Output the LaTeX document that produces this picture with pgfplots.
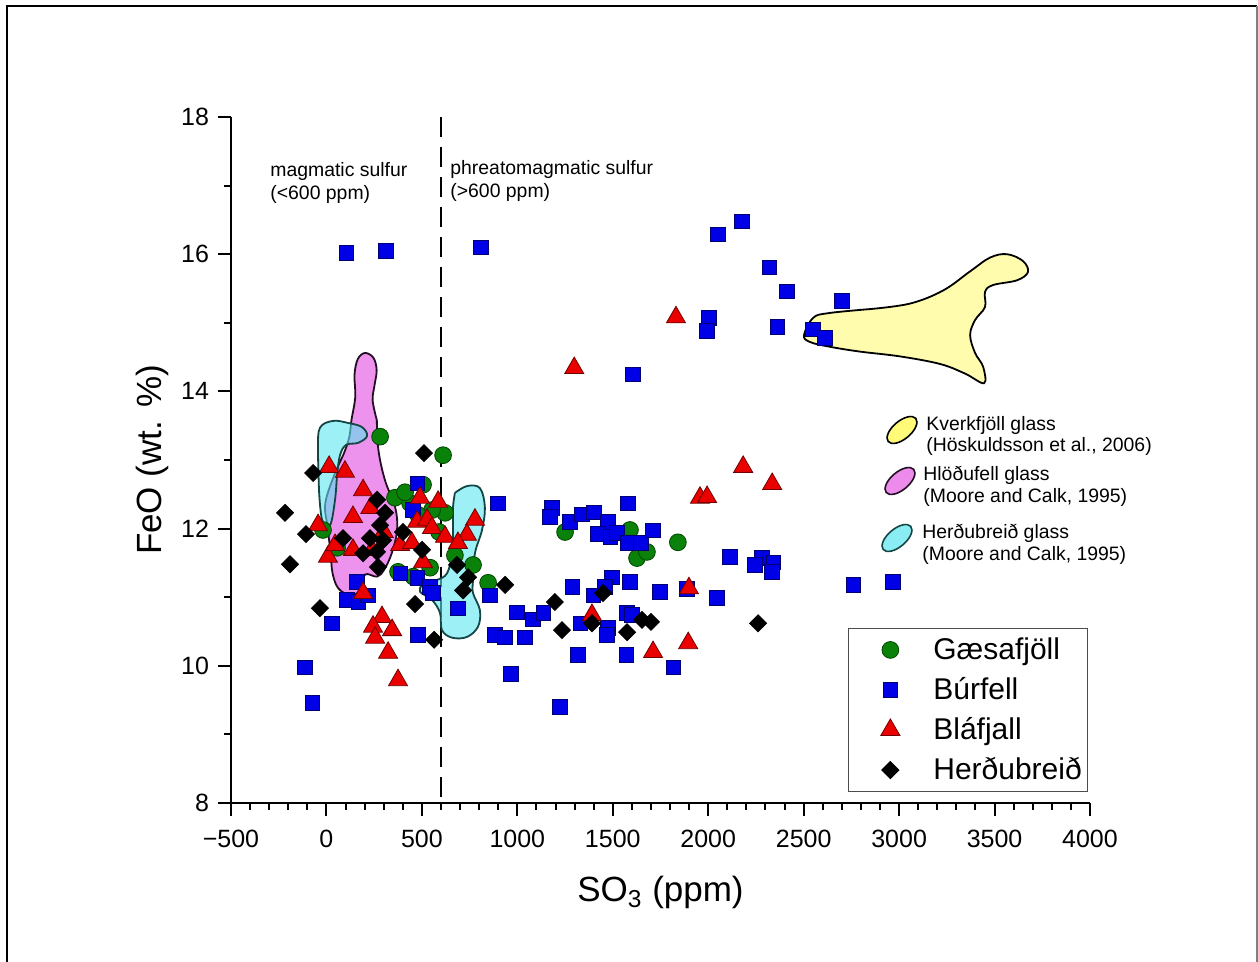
\documentclass[border=0pt]{standalone}
\usepackage{pgfplots}
\pgfplotsset{compat=1.18}
\usepackage{fontspec}
\setmainfont{Liberation Sans}
\definecolor{gfill}{RGB}{10,130,10}
\definecolor{gedge}{RGB}{0,70,0}
\definecolor{bfill}{RGB}{0,0,230}
\definecolor{bedge}{RGB}{0,0,110}
\definecolor{rfill}{RGB}{235,0,0}
\definecolor{redge}{RGB}{110,0,0}
\definecolor{yfill}{RGB}{255,250,120}
\definecolor{pfill}{RGB}{230,100,230}
\definecolor{cfill}{RGB}{90,230,240}
\definecolor{cedge}{RGB}{20,70,70}
\begin{document}
\begin{tikzpicture}
\useasboundingbox (0,0) rectangle (629pt,481pt);
\draw[line width=1pt] (3.5pt,0) -- (3.5pt,478pt) -- (628.5pt,478pt);
\draw[line width=1pt, gray] (628.5pt,478pt) -- (628.5pt,0);
\begin{axis}[
 at={(115.5pt,79.5pt)}, anchor=south west,
 scale only axis, width=429.5pt, height=343pt,
 xmin=-500, xmax=4000, ymin=8, ymax=18,
 axis x line=bottom, axis y line=left,
 axis line style={-, line width=1pt},
 xtick={-500,0,...,4000},
 xticklabels={−500,0,500,1000,1500,2000,2500,3000,3500,4000},
 minor x tick num=4,
 ytick={8,10,...,18}, minor y tick num=1,
 tick align=outside, major tick length=6.5pt, minor tick length=3.5pt,
 tick style={line width=1pt, black},
 tick label style={font=\fontsize{12.5}{14}\selectfont},
 xticklabel style={yshift=-3.5pt},
 yticklabel style={xshift=-1pt},
 /pgf/number format/assume math mode=true,
 xlabel={SO\textsubscript{3} (ppm)}, ylabel={FeO (wt. \%)},
 label style={font=\fontsize{17.5}{20}\selectfont},
 xlabel style={at={(axis description cs:0.5,-0.131)}, anchor=center},
 ylabel style={at={(axis description cs:-0.092,0.5)}, anchor=center},
 legend image code/.code={\path[draw=none,fill=none] (0pt,0pt) -- (39.5pt,0pt); \draw[#1] plot coordinates {(20pt,0pt)};},
 legend style={at={(0.998,0.255)}, anchor=north east, draw=black!70, line width=0.5pt,
   font=\fontsize{15}{17}\selectfont, row sep=3.5pt, inner xsep=1pt, inner ysep=2.5pt},
 legend cell align=left,
 clip=false,
]
% Gaesafjoll
\addplot[only marks, mark=*, mark size=4.2pt, mark options={fill=gfill, draw=gedge, line width=0.4pt}] coordinates {
(281,13.34) (611,13.07) (506,12.64) (359,12.45) (438,12.37) (621,12.23) (768,11.47) (847,11.21)
(375,11.37) (1250,11.95) (1590,11.98) (1841,11.80) (1627,11.57) (1679,11.66) (-18,11.98) (56,11.72)
(543,11.43) (412,12.53) (553,12.27) (673,11.61) (480,12.20) (590,11.95) (455,11.30)
};
\addlegendentry{Gæsafjöll}
% Burfell
\addplot[only marks, mark=square*, mark size=3.6pt, mark options={fill=bfill, draw=bedge, line width=0.4pt}] coordinates {
(103,16.02) (312,16.05) (810,16.10) (2177,16.48) (2051,16.29) (2319,15.81) (2413,15.46) (2701,15.32)
(2004,15.07) (1994,14.88) (2361,14.94) (1606,14.25) (2549,14.90) (2612,14.78)
(1580,12.37) (1276,12.10) (1339,12.21) (1402,12.24) (1475,12.10) (1423,11.92) (1486,11.88) (1522,11.94)
(1580,11.79) (1648,11.79) (1711,11.97) (2114,11.59) (2282,11.57) (2245,11.47) (2340,11.51) (2334,11.37)
(2759,11.18) (2968,11.22) (1287,11.15) (1397,11.03) (1496,11.29) (1590,11.22) (1459,11.15) (1747,11.08)
(1889,11.12) (2046,10.99) (1329,10.62) (1575,10.77) (1601,10.74) (1475,10.55) (1470,10.45) (1318,10.16)
(1570,10.16) (1816,9.98)
(475,12.66) (899,12.37) (1182,12.30) (1171,12.17) (475,11.28) (857,11.03) (998,10.78) (1082,10.68)
(1135,10.77) (883,10.45) (935,10.41) (1040,10.41) (480,10.45) (453,12.27) (386,11.35) (543,11.15)
(689,10.84) (558,11.06) (967,9.88) (1223,9.40)
(-112,9.98) (29,10.62) (108,10.96) (166,10.93) (218,11.03) (160,11.22) (-75,9.46)
};
\addlegendentry{Búrfell}
% Blafjall
\addplot[only marks, mark=triangle*, mark size=5.5pt, mark options={fill=rfill, draw=redge, line width=0.4pt}] coordinates {
(1831,15.08) (1298,14.34) (2183,12.90) (2335,12.65) (1957,12.45) (1994,12.46) (1899,11.13) (1391,10.74)
(1711,10.20) (1895,10.33)
(-44,12.05) (8,11.59) (45,11.76) (490,12.45) (585,12.39) (475,12.10) (527,12.13) (553,12.01)
(386,11.76) (448,11.79) (506,11.51) (621,11.88) (192,11.06) (291,10.71) (244,10.57) (344,10.52)
(255,10.41) (323,10.19) (375,9.79)
(192,12.56) (139,12.17) (239,11.69) (139,11.69) (230,12.30) (300,11.95)
(14,12.90) (97,12.83) (778,12.13) (736,11.91) (689,11.79)
};
\addlegendentry{Bláfjall}
% Herdubreid
\addplot[only marks, mark=square*, mark size=3pt, mark options={rotate=45, fill=black, draw=black}] coordinates {
(-217,12.23) (-70,12.81) (-107,11.92) (-191,11.48) (-34,10.84) (511,13.10) (401,11.95) (501,11.69)
(464,10.90) (564,10.38) (87,11.86)
(265,12.42) (307,12.23) (281,12.05) (228,11.86) (297,11.83) (265,11.66) (192,11.64) (270,11.44)
(936,11.18) (1197,10.93) (1234,10.52) (742,11.29) (1391,10.62) (1449,11.06) (1575,10.49) (1653,10.67)
(1700,10.64) (2261,10.62) (684,11.47) (716,11.10)
};
\addlegendentry{Herðubreið}
% dashed divider
\addplot[forget plot, black, line width=1pt, dash pattern=on 10pt off 5pt] coordinates {(600,18) (600,8)};
% Kverkfjoll glass
\addplot[forget plot, smooth, tension=0.6, draw=black, line width=0.9pt, fill=yfill, fill opacity=0.6] coordinates {
(2848,15.20) (3057,15.28) (3230,15.47) (3372,15.75) (3476,15.95) (3565,16.00) (3649,15.90) (3675,15.74)
(3618,15.62) (3492,15.55) (3450,15.45) (3450,15.23) (3398,15.04) (3372,14.82) (3398,14.56) (3440,14.36)
(3445,14.12) (3345,14.26) (3214,14.40) (3005,14.51) (2795,14.58) (2638,14.65) (2533,14.72) (2502,14.82)
(2549,15.07) (2628,15.14) (2848,15.20)
};
% Hlodufell glass
\addplot[forget plot, smooth, tension=0.6, draw=black!85!pfill, line width=0.9pt, fill=pfill, fill opacity=0.7] coordinates {
(264,13.58) (272,13.15) (306,12.71) (360,12.31) (370,11.98) (342,11.64) (302,11.40) (265,11.30)
(202,11.33) (176,11.10) (124,11.03) (62,11.13) (32,11.35) (22,11.64) (6,12.02) (-6,12.37)
(45,12.81) (92,13.10) (120,13.34) (131,13.58) (151,13.92) (147,14.24) (164,14.47) (202,14.56)
(246,14.49) (263,14.31) (252,14.09) (242,13.87) (264,13.58)
};
% Herdubreid glass (left)
\addplot[forget plot, smooth, tension=0.6, draw=cedge, line width=0.9pt, fill=cfill, fill opacity=0.6] coordinates {
(-39,12.56) (-44,13.15) (-34,13.47) (35,13.57) (113,13.54) (186,13.48) (213,13.35) (166,13.25)
(103,13.22) (71,13.07) (56,12.78) (45,12.42) (19,12.05) (-23,12.13) (-39,12.56)
};
% Herdubreid glass (right)
\addplot[forget plot, smooth, tension=0.6, draw=cedge, line width=0.9pt, fill=cfill, fill opacity=0.6] coordinates {
(673,12.52) (736,12.62) (804,12.59) (830,12.31) (815,11.98) (778,11.64) (768,11.25) (768,11.06)
(804,10.81) (794,10.57) (736,10.42) (658,10.41) (605,10.52) (595,10.77) (553,10.96) (490,11.08)
(506,11.18) (579,11.25) (632,11.35) (658,11.64) (663,11.98) (663,12.31) (673,12.52)
};
\end{axis}
% annotations
\begin{scope}[every node/.style={font=\fontsize{9.7}{11}\selectfont, inner sep=0pt, anchor=base west}]
\node at (135pt,392.5pt) {magmatic sulfur};
\node at (135pt,381pt) {(<600 ppm)};
\node at (225pt,393.5pt) {phreatomagmatic sulfur};
\node at (225pt,382pt) {(>600 ppm)};
\node at (463pt,265.5pt) {Kverkfjöll glass};
\node at (463pt,255pt) {(Höskuldsson et al., 2006)};
\node at (461.5pt,240.5pt) {Hlöðufell glass};
\node at (461.5pt,229.5pt) {(Moore and Calk, 1995)};
\node at (461pt,211.5pt) {Herðubreið glass};
\node at (461pt,200.5pt) {(Moore and Calk, 1995)};
\end{scope}
\draw[line width=0.8pt, fill=yfill, shift={(451pt,266pt)}, rotate=40] (0,0) ellipse (9pt and 4.5pt);
\draw[line width=0.8pt, draw=black!85!pfill, fill=pfill!75!white, shift={(450pt,240.5pt)}, rotate=40] (0,0) ellipse (9pt and 4.5pt);
\draw[line width=0.8pt, draw=cedge, fill=cfill!70!white, shift={(448.5pt,212pt)}, rotate=40] (0,0) ellipse (9pt and 4.5pt);
\end{tikzpicture}
\end{document}
